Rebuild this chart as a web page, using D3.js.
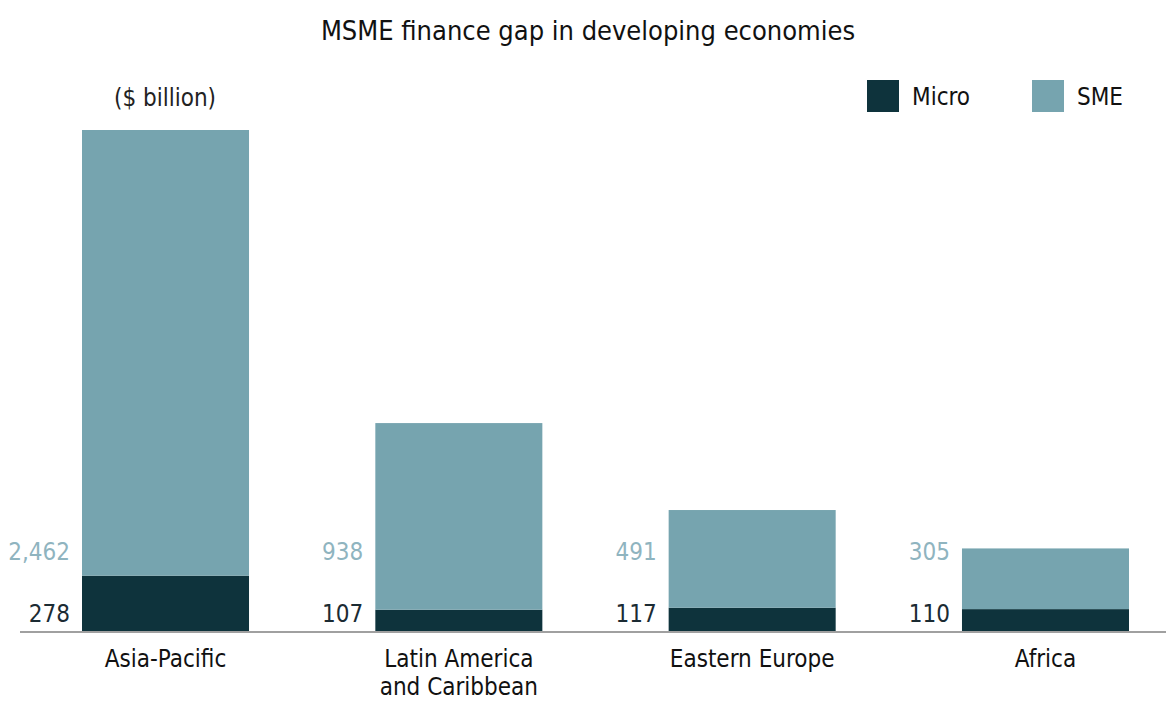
<!DOCTYPE html>
<html>
<head>
<meta charset="utf-8">
<script src="https://cdn.jsdelivr.net/npm/d3@7"></script>
<style>
  html, body { margin: 0; padding: 0; background: #fff; }
  svg text { font-family: "Liberation Sans Narrow", "DejaVu Sans Condensed", "Roboto", sans-serif; }
</style>
</head>
<body>
<svg id="chart" width="1166" height="703"></svg>
<script>
// MSME finance gap by region, $ billion
const regions = ["Asia-Pacific", "Latin America\nand Caribbean", "Eastern Europe", "Africa"];
const micro = [278, 107, 117, 110];
const sme = [2462, 938, 491, 305];
const seriesNames = ["Micro", "SME"];
const seriesColors = ["#0e333c", "#76a4af"];
const labelColors = ["#1b2b33", "#8fb4bf"];

const svg = d3.select("#chart");
const W = 1166;
const baseY = 631;

const x = d3.scaleBand().domain(regions).range([82, 1129]).paddingInner(0.4306).paddingOuter(0);
// top of the plot clips the tallest stack
const y = d3.scaleLinear().domain([0, 2518]).range([baseY, 130]).clamp(true);

const rows = regions.map((r, i) => ({ region: r, Micro: micro[i], SME: sme[i] }));
const stack = d3.stack().keys(seriesNames)(rows);

svg.append("text")
  .attr("x", 588).attr("y", 40)
  .attr("text-anchor", "middle")
  .attr("font-size", 27)
  .attr("fill", "#111")
  .text("MSME finance gap in developing economies");

svg.append("text")
  .attr("x", 165).attr("y", 106)
  .attr("text-anchor", "middle")
  .attr("font-size", 24)
  .attr("fill", "#222")
  .text("($ billion)");

// stacked bars
svg.append("g").selectAll("g")
  .data(stack)
  .join("g")
  .attr("fill", (d, i) => seriesColors[i])
  .selectAll("rect")
  .data(d => d)
  .join("rect")
  .attr("x", d => x(d.data.region))
  .attr("width", x.bandwidth())
  .attr("y", d => y(d[1]))
  .attr("height", d => y(d[0]) - y(d[1]));

// value labels to the left of each bar
const labelY = [622, 560];
stack.forEach((s, si) => {
  svg.append("g").selectAll("text")
    .data(s)
    .join("text")
    .attr("x", d => x(d.data.region) - 12)
    .attr("y", labelY[si])
    .attr("text-anchor", "end")
    .attr("font-size", 24)
    .attr("fill", labelColors[si])
    .text(d => d3.format(",")(d.data[seriesNames[si]]));
});

// baseline
svg.append("line")
  .attr("x1", 20).attr("x2", W)
  .attr("y1", baseY + 1).attr("y2", baseY + 1)
  .attr("stroke", "#a0a0a0").attr("stroke-width", 2);

// category labels
const cat = svg.append("g").selectAll("text")
  .data(regions)
  .join("text")
  .attr("x", d => x(d) + x.bandwidth() / 2)
  .attr("y", 667)
  .attr("text-anchor", "middle")
  .attr("font-size", 24)
  .attr("fill", "#111");
cat.each(function(d) {
  const t = d3.select(this);
  d.split("\n").forEach((line, i) => {
    t.append("tspan")
      .attr("x", x(d) + x.bandwidth() / 2)
      .attr("dy", i === 0 ? 0 : 28)
      .text(line);
  });
});

// legend
const legendX = [867, 1032];
const lg = svg.append("g").selectAll("g")
  .data(seriesNames)
  .join("g")
  .attr("transform", (d, i) => `translate(${legendX[i]},80)`);
lg.append("rect")
  .attr("width", 32).attr("height", 32)
  .attr("fill", (d, i) => seriesColors[i]);
lg.append("text")
  .attr("x", 45).attr("y", 25)
  .attr("font-size", 24)
  .attr("fill", "#111")
  .text(d => d);
</script>
</body>
</html>
